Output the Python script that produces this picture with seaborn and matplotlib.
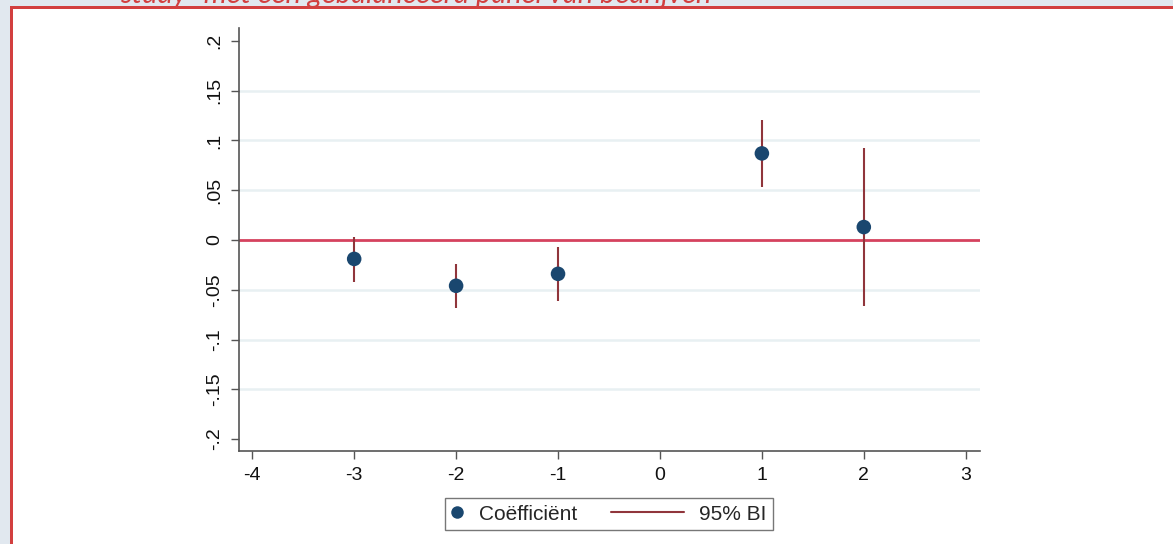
import numpy as np
import pandas as pd
import seaborn as sns
import matplotlib.pyplot as plt
from matplotlib.patches import Rectangle
from matplotlib.lines import Line2D
from matplotlib.legend_handler import HandlerBase

# event-time coefficients with 95% confidence bounds
periods = [-3, -2, -1, 1, 2]
coef = [-0.019, -0.046, -0.034, 0.087, 0.013]
ci_low = [-0.042, -0.068, -0.061, 0.053, -0.066]
ci_high = [0.003, -0.024, -0.007, 0.121, 0.092]

x_ticks = [-4, -3, -2, -1, 0, 1, 2, 3]
y_ticks = [-0.2, -0.15, -0.1, -0.05, 0, 0.05, 0.1, 0.15, 0.2]
y_tick_labels = ["-.2", "-.15", "-.1", "-.05", "0", ".05", ".1", ".15", ".2"]
grid_levels = [-0.15, -0.1, -0.05, 0.05, 0.1, 0.15]

df = pd.DataFrame({"period": periods, "coef": coef, "lo": ci_low, "hi": ci_high})

DOT = "#1a476f"
CI = "#90353b"


class DotHandler(HandlerBase):
    """Legend handle that only takes the width of the dot itself."""

    def legend_artist(self, legend, orig_handle, fontsize, handlebox):
        handlebox.width = 0.6 * fontsize
        w, h = handlebox.width, handlebox.height
        dot = Line2D([w / 2 - handlebox.xdescent], [h / 2 - handlebox.ydescent],
                     marker="o", ls="none", markerfacecolor=DOT,
                     markeredgecolor="none", markersize=9)
        handlebox.add_artist(dot)
        return dot


sns.set_style("white")
plt.rcParams["font.family"] = ["Liberation Sans", "DejaVu Sans"]

W, H = 1173, 544
fig = plt.figure(figsize=(W / 100, H / 100), dpi=100, facecolor="#e1e8ef")

# page frame: white panel with red top/left border
fig.patches.append(Rectangle((11 / W, 0), 1, 1 - 8 / H, transform=fig.transFigure,
                             facecolor="white", edgecolor="none", zorder=-3))
fig.patches.append(Rectangle((10 / W, 1 - 9 / H), 1, 2.5 / H, transform=fig.transFigure,
                             facecolor="#d23f3f", edgecolor="none", zorder=-2))
fig.patches.append(Rectangle((10 / W, 0), 2.5 / W, 1 - 6.5 / H, transform=fig.transFigure,
                             facecolor="#d23f3f", edgecolor="none", zorder=-2))
fig.text(120 / W, 1 - 3 / H, 'study" met een gebalanceerd panel van bedrijven',
         color="#d23f3f", fontsize=21, style="italic", ha="left", va="baseline",
         family=["Lato", "DejaVu Sans"], zorder=-1)

ax = fig.add_axes([239 / W, 1 - 451 / H, (980 - 239) / W, (451 - 28) / H])
ax.set_facecolor("white")

for y in grid_levels:
    ax.axhline(y, color="#e8f0f2", lw=1.8, zorder=0)
ax.axhline(0, color="#d5425e", lw=2, zorder=1)

ax.vlines(df["period"], df["lo"], df["hi"], color=CI, lw=1.5, zorder=2)
sns.scatterplot(data=df, x="period", y="coef", ax=ax, color=DOT, s=110,
                edgecolor="none", zorder=3, legend=False)

ax.set_xlim(-4.13, 3.14)
ax.set_ylim(-0.212, 0.213)
ax.set_xticks(x_ticks)
ax.set_xticklabels([str(v) for v in x_ticks])
ax.set_yticks(y_ticks)
ax.set_yticklabels(y_tick_labels, rotation=90, va="center")
ax.set_xlabel("")
ax.set_ylabel("")
ax.tick_params(axis="both", direction="out", length=5.5, width=1, color="#555555",
               labelsize=14, labelcolor="#111111", pad=6,
               left=True, bottom=True)
sns.despine(ax=ax)
for side in ["left", "bottom"]:
    ax.spines[side].set_color("#555555")
    ax.spines[side].set_linewidth(1.2)

handles = [Line2D([], [], color=DOT), Line2D([], [], color=CI, lw=1.5)]
leg = fig.legend(handles, ["Coëfficiënt", "95% BI"], loc="center",
                 bbox_to_anchor=(609 / W, 1 - 514 / H), ncol=2, frameon=True,
                 fancybox=False, edgecolor="#555555", fontsize=15,
                 handlelength=3.5, columnspacing=1.6, handletextpad=0.75,
                 borderpad=0.3, handler_map={handles[0]: DotHandler()})
leg.get_frame().set_linewidth(1.0)

fig.savefig("out.png", dpi=100, facecolor=fig.get_facecolor())
